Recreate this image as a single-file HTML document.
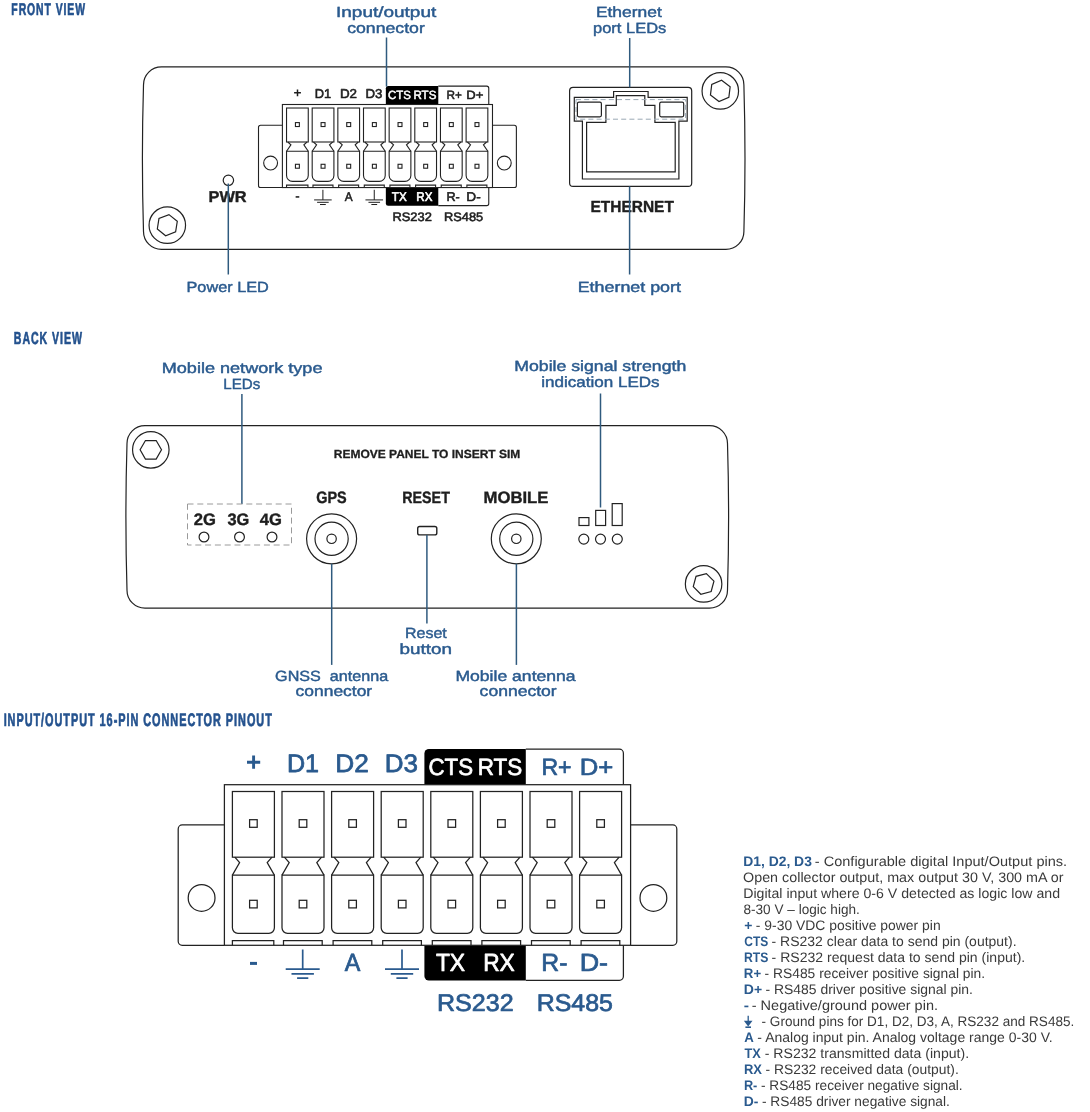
<!DOCTYPE html>
<html lang="en"><head><meta charset="utf-8"><title>Front / back view</title>
<style>html,body{margin:0;padding:0;background:#fff}body{width:1090px;height:1112px;overflow:hidden;font-family:"Liberation Sans", sans-serif}</style></head>
<body>
<svg width="1090" height="1112" viewBox="0 0 1090 1112" font-family='"Liberation Sans", sans-serif' style="display:block;will-change:transform" text-rendering="geometricPrecision">
<style>.s{fill:none;stroke:#222222;stroke-width:1.2}.f{fill:#fff;stroke:#222222;stroke-width:1.2}</style>
<rect width="1090" height="1112" fill="#fff"/>
<text xml:space="preserve" transform="translate(11.35,15.47) scale(0.5781,0.9509)" font-size="18" font-weight="bold" fill="#24528e" stroke="#24528e" stroke-width="0.70" stroke-linejoin="round" letter-spacing="1.6">FRONT VIEW</text>
<text xml:space="preserve" transform="translate(13.84,344.46) scale(0.5877,0.9658)" font-size="18" font-weight="bold" fill="#24528e" stroke="#24528e" stroke-width="0.70" stroke-linejoin="round" letter-spacing="1.6">BACK VIEW</text>
<text xml:space="preserve" transform="translate(3.63,725.75) scale(0.6044,1.0108)" font-size="18" font-weight="bold" fill="#24528e" stroke="#24528e" stroke-width="0.70" stroke-linejoin="round" letter-spacing="1.6">INPUT/OUTPUT 16-PIN CONNECTOR PINOUT</text>
<path class="f" d="M161.50,66.9 H725.90 A18.0,18.0 0 0 1 743.90,84.90 Q746.10,158.15 743.90,231.40 A18.0,18.0 0 0 1 725.90,249.4 H161.50 A18.0,18.0 0 0 1 143.50,231.40 Q141.30,158.15 143.50,84.90 A18.0,18.0 0 0 1 161.50,66.9 Z"/>
<circle cx="167.3" cy="225.2" r="18.25" class="s"/>
<polygon points="168.97,214.63 177.29,221.37 175.62,231.93 165.63,235.77 157.31,229.03 158.98,218.47" class="s"/>
<circle cx="720.3" cy="90.9" r="18.25" class="s"/>
<polygon points="721.60,80.28 730.15,86.72 728.85,97.34 719.00,101.52 710.45,95.08 711.75,84.46" class="s"/>
<circle cx="228.4" cy="180.3" r="5.2" class="f"/>
<text xml:space="preserve" transform="translate(208.48,201.80) scale(1.0213,0.9785)" font-size="16" font-weight="bold" fill="#1e1e1e" stroke="#1e1e1e" stroke-width="0.40" stroke-linejoin="round">PWR</text>
<g transform="translate(282.4,104.5) scale(0.5172)" fill="none" stroke="#222222" stroke-width="2.127">
<path d="M0,40.2 H-42.2 a4,4 0 0 0 -4,4 V156.6 a4,4 0 0 0 4,4 H0" fill="#fff"/>
<path d="M406.2,40.2 H448.4 a4,4 0 0 1 4,4 V156.6 a4,4 0 0 1 -4,4 H406.2" fill="#fff"/>
<circle cx="-22.8" cy="113.2" r="13.4"/>
<circle cx="429.0" cy="113.2" r="13.4"/>
<path d="M200.0,0 V-31.3 a4.5,4.5 0 0 1 4.5,-4.5 H301.4 V0 Z" fill="#000" stroke="none"/>
<path d="M301.4,-35.5 H395.0 a4,4 0 0 1 4,4 V0" fill="#fff"/>
<path d="M200.0,160.6 V191.4 a4.5,4.5 0 0 0 4.5,4.5 H301.4 V160.6 Z" fill="#000" stroke="none"/>
<path d="M301.4,195.6 H395.0 a4,4 0 0 0 4,-4 V160.6" fill="#fff"/>
<rect x="0" y="0" width="406.2" height="160.6" fill="#fff"/>
<rect x="8.00" y="6.8" width="42.0" height="65.7"/>
<path d="M10.40,72.5 L16.50,77.8 L8.00,90.4 M47.60,72.5 L41.50,77.8 L50.00,90.4"/>
<path d="M8.00,90.4 H50.00 V137.10 a11.5,11.5 0 0 1 -11.5,11.5 H19.50 a11.5,11.5 0 0 1 -11.5,-11.5 Z"/>
<path d="M8.00,160.6 V155.8 H49.40 V160.6"/>
<rect x="25.20" y="35.00" width="7.6" height="7.6"/>
<rect x="25.20" y="115.60" width="7.6" height="7.6"/>
<rect x="57.60" y="6.8" width="42.0" height="65.7"/>
<path d="M60.00,72.5 L66.10,77.8 L57.60,90.4 M97.20,72.5 L91.10,77.8 L99.60,90.4"/>
<path d="M57.60,90.4 H99.60 V137.10 a11.5,11.5 0 0 1 -11.5,11.5 H69.10 a11.5,11.5 0 0 1 -11.5,-11.5 Z"/>
<path d="M59.10,160.6 V155.8 H97.80 V160.6"/>
<rect x="74.80" y="35.00" width="7.6" height="7.6"/>
<rect x="74.80" y="115.60" width="7.6" height="7.6"/>
<rect x="107.20" y="6.8" width="42.0" height="65.7"/>
<path d="M109.60,72.5 L115.70,77.8 L107.20,90.4 M146.80,72.5 L140.70,77.8 L149.20,90.4"/>
<path d="M107.20,90.4 H149.20 V137.10 a11.5,11.5 0 0 1 -11.5,11.5 H118.70 a11.5,11.5 0 0 1 -11.5,-11.5 Z"/>
<path d="M108.70,160.6 V155.8 H147.40 V160.6"/>
<rect x="124.40" y="35.00" width="7.6" height="7.6"/>
<rect x="124.40" y="115.60" width="7.6" height="7.6"/>
<rect x="156.80" y="6.8" width="42.0" height="65.7"/>
<path d="M159.20,72.5 L165.30,77.8 L156.80,90.4 M196.40,72.5 L190.30,77.8 L198.80,90.4"/>
<path d="M156.80,90.4 H198.80 V137.10 a11.5,11.5 0 0 1 -11.5,11.5 H168.30 a11.5,11.5 0 0 1 -11.5,-11.5 Z"/>
<path d="M158.30,160.6 V155.8 H197.00 V160.6"/>
<rect x="174.00" y="35.00" width="7.6" height="7.6"/>
<rect x="174.00" y="115.60" width="7.6" height="7.6"/>
<rect x="206.40" y="6.8" width="42.0" height="65.7"/>
<path d="M208.80,72.5 L214.90,77.8 L206.40,90.4 M246.00,72.5 L239.90,77.8 L248.40,90.4"/>
<path d="M206.40,90.4 H248.40 V137.10 a11.5,11.5 0 0 1 -11.5,11.5 H217.90 a11.5,11.5 0 0 1 -11.5,-11.5 Z"/>
<path d="M207.90,160.6 V155.8 H246.60 V160.6"/>
<rect x="223.60" y="35.00" width="7.6" height="7.6"/>
<rect x="223.60" y="115.60" width="7.6" height="7.6"/>
<rect x="256.00" y="6.8" width="42.0" height="65.7"/>
<path d="M258.40,72.5 L264.50,77.8 L256.00,90.4 M295.60,72.5 L289.50,77.8 L298.00,90.4"/>
<path d="M256.00,90.4 H298.00 V137.10 a11.5,11.5 0 0 1 -11.5,11.5 H267.50 a11.5,11.5 0 0 1 -11.5,-11.5 Z"/>
<path d="M257.50,160.6 V155.8 H296.20 V160.6"/>
<rect x="273.20" y="35.00" width="7.6" height="7.6"/>
<rect x="273.20" y="115.60" width="7.6" height="7.6"/>
<rect x="305.60" y="6.8" width="42.0" height="65.7"/>
<path d="M308.00,72.5 L314.10,77.8 L305.60,90.4 M345.20,72.5 L339.10,77.8 L347.60,90.4"/>
<path d="M305.60,90.4 H347.60 V137.10 a11.5,11.5 0 0 1 -11.5,11.5 H317.10 a11.5,11.5 0 0 1 -11.5,-11.5 Z"/>
<path d="M307.10,160.6 V155.8 H345.80 V160.6"/>
<rect x="322.80" y="35.00" width="7.6" height="7.6"/>
<rect x="322.80" y="115.60" width="7.6" height="7.6"/>
<rect x="355.20" y="6.8" width="42.0" height="65.7"/>
<path d="M357.60,72.5 L363.70,77.8 L355.20,90.4 M394.80,72.5 L388.70,77.8 L397.20,90.4"/>
<path d="M355.20,90.4 H397.20 V137.10 a11.5,11.5 0 0 1 -11.5,11.5 H366.70 a11.5,11.5 0 0 1 -11.5,-11.5 Z"/>
<path d="M356.70,160.6 V155.8 H395.40 V160.6"/>
<rect x="372.40" y="35.00" width="7.6" height="7.6"/>
<rect x="372.40" y="115.60" width="7.6" height="7.6"/>
</g>
<path d="M294.09,92.86 H300.92 M297.50,89.45 V96.28" stroke="#1e1e1e" stroke-width="1.50" fill="none"/>
<text xml:space="preserve" transform="translate(314.84,97.90) scale(0.9546,0.9563)" font-size="13.4472" font-weight="normal" fill="#1e1e1e" stroke="#1e1e1e" stroke-width="0.61" stroke-linejoin="round">D1</text>
<text xml:space="preserve" transform="translate(339.89,97.90) scale(0.9961,0.9563)" font-size="13.4472" font-weight="normal" fill="#1e1e1e" stroke="#1e1e1e" stroke-width="0.61" stroke-linejoin="round">D2</text>
<text xml:space="preserve" transform="translate(365.45,97.90) scale(0.9866,0.9563)" font-size="13.4472" font-weight="normal" fill="#1e1e1e" stroke="#1e1e1e" stroke-width="0.61" stroke-linejoin="round">D3</text>
<text xml:space="preserve" transform="translate(388.04,99.47) scale(0.8514,0.8843)" font-size="13.4472" font-weight="normal" fill="#fff" stroke="#fff" stroke-width="0.61" stroke-linejoin="round">CTS</text>
<text xml:space="preserve" transform="translate(413.49,99.47) scale(0.8573,0.8843)" font-size="13.4472" font-weight="normal" fill="#fff" stroke="#fff" stroke-width="0.61" stroke-linejoin="round">RTS</text>
<text xml:space="preserve" transform="translate(446.47,99.47) scale(0.8776,0.8843)" font-size="13.4472" font-weight="normal" fill="#1e1e1e" stroke="#1e1e1e" stroke-width="0.61" stroke-linejoin="round">R+</text>
<text xml:space="preserve" transform="translate(466.31,99.47) scale(0.9772,0.8843)" font-size="13.4472" font-weight="normal" fill="#1e1e1e" stroke="#1e1e1e" stroke-width="0.61" stroke-linejoin="round">D+</text>
<text xml:space="preserve" transform="translate(391.87,200.57) scale(0.8692,0.9357)" font-size="13.4472" font-weight="normal" fill="#fff" stroke="#fff" stroke-width="0.61" stroke-linejoin="round">TX</text>
<text xml:space="preserve" transform="translate(416.33,200.57) scale(0.8663,0.9357)" font-size="13.4472" font-weight="normal" fill="#fff" stroke="#fff" stroke-width="0.61" stroke-linejoin="round">RX</text>
<text xml:space="preserve" transform="translate(446.42,200.57) scale(0.9402,0.9357)" font-size="13.4472" font-weight="normal" fill="#1e1e1e" stroke="#1e1e1e" stroke-width="0.61" stroke-linejoin="round">R-</text>
<text xml:space="preserve" transform="translate(466.28,200.57) scale(1.0182,0.9357)" font-size="13.4472" font-weight="normal" fill="#1e1e1e" stroke="#1e1e1e" stroke-width="0.61" stroke-linejoin="round">D-</text>
<text xml:space="preserve" transform="translate(344.68,200.57) scale(0.8799,0.9408)" font-size="13.4472" font-weight="normal" fill="#1e1e1e" stroke="#1e1e1e" stroke-width="0.61" stroke-linejoin="round">A</text>
<rect x="295.64" y="196.15" width="3.62" height="1.55" fill="#1e1e1e"/>
<path d="M322.90,189.79 V199.92 M314.10,199.92 H331.69 M317.10,202.30 H328.69 M320.00,204.53 H325.79" stroke="#1e1e1e" stroke-width="1.00" fill="none"/>
<path d="M374.25,189.79 V199.92 M365.46,199.92 H383.05 M368.46,202.30 H380.05 M371.36,204.53 H377.15" stroke="#1e1e1e" stroke-width="1.00" fill="none"/>
<text xml:space="preserve" transform="translate(392.47,221.22) scale(0.9590,0.9100)" font-size="13.4472" font-weight="normal" fill="#1e1e1e" stroke="#1e1e1e" stroke-width="0.61" stroke-linejoin="round">RS232</text>
<text xml:space="preserve" transform="translate(444.04,221.22) scale(0.9538,0.9100)" font-size="13.4472" font-weight="normal" fill="#1e1e1e" stroke="#1e1e1e" stroke-width="0.61" stroke-linejoin="round">RS485</text>
<rect x="569.6" y="87.4" width="122.1" height="99" rx="3.5" class="f"/>
<path d="M574.3,97.4 H613.6 V91.5 H648.1 V97.4 H687.2 V121.2 H678.9 V179 H582.4 V121.2 H574.3 Z" class="s"/>
<path d="M586.6,122.3 H605.9 V105.3 H616.3 V95.7 H644.8 V105.3 H654.9 V122.3 H675.2 V171.9 H586.6 Z" class="s"/>
<rect x="576" y="99.6" width="109.6" height="19.6" fill="none" stroke="#9aa8b4" stroke-width="1" stroke-dasharray="5,3.2"/>
<rect x="577.4" y="102.2" width="24" height="14.6" rx="1.5" class="f"/>
<rect x="659.7" y="102.2" width="24" height="14.6" rx="1.5" class="f"/>
<text xml:space="preserve" transform="translate(590.52,211.60) scale(0.9495,0.9864)" font-size="16.3" font-weight="bold" fill="#1e1e1e" stroke="#1e1e1e" stroke-width="0.40" stroke-linejoin="round">ETHERNET</text>
<line x1="386.5" y1="37.5" x2="386.5" y2="86.5" stroke="#2f5a7e" stroke-width="1.5"/>
<line x1="629.7" y1="38.0" x2="629.7" y2="87.4" stroke="#2f5a7e" stroke-width="1.5"/>
<line x1="629.6" y1="186.4" x2="629.6" y2="274.5" stroke="#2f5a7e" stroke-width="1.5"/>
<line x1="228.3" y1="183.5" x2="228.3" y2="274.5" stroke="#2f5a7e" stroke-width="1.5"/>
<text xml:space="preserve" transform="translate(336.00,17.08) scale(1.1862,0.9207)" font-size="16" font-weight="normal" fill="#2a5a8e" stroke="#2a5a8e" stroke-width="0.48" stroke-linejoin="round">Input/output</text>
<text xml:space="preserve" transform="translate(347.21,33.28) scale(1.1045,0.9207)" font-size="16" font-weight="normal" fill="#2a5a8e" stroke="#2a5a8e" stroke-width="0.48" stroke-linejoin="round">connector</text>
<text xml:space="preserve" transform="translate(595.90,17.18) scale(1.0892,0.9207)" font-size="16" font-weight="normal" fill="#2a5a8e" stroke="#2a5a8e" stroke-width="0.48" stroke-linejoin="round">Ethernet</text>
<text xml:space="preserve" transform="translate(593.02,33.28) scale(1.0297,0.9207)" font-size="16" font-weight="normal" fill="#2a5a8e" stroke="#2a5a8e" stroke-width="0.48" stroke-linejoin="round">port LEDs</text>
<text xml:space="preserve" transform="translate(186.47,292.28) scale(1.0176,0.9207)" font-size="16" font-weight="normal" fill="#2a5a8e" stroke="#2a5a8e" stroke-width="0.48" stroke-linejoin="round">Power LED</text>
<text xml:space="preserve" transform="translate(577.67,292.38) scale(1.1167,0.9207)" font-size="16" font-weight="normal" fill="#2a5a8e" stroke="#2a5a8e" stroke-width="0.48" stroke-linejoin="round">Ethernet port</text>
<path class="f" d="M145.00,425.6 H709.50 A18.0,18.0 0 0 1 727.50,443.60 Q729.70,516.90 727.50,590.20 A18.0,18.0 0 0 1 709.50,608.2 H145.00 A18.0,18.0 0 0 1 127.00,590.20 Q124.80,516.90 127.00,443.60 A18.0,18.0 0 0 1 145.00,425.6 Z"/>
<circle cx="150.8" cy="449.8" r="18.25" class="s"/>
<polygon points="156.15,440.53 161.50,449.80 156.15,459.07 145.45,459.07 140.10,449.80 145.45,440.53" class="s"/>
<circle cx="703.6" cy="583.9" r="18.25" class="s"/>
<polygon points="706.37,573.56 713.94,581.13 711.17,591.47 700.83,594.24 693.26,586.67 696.03,576.33" class="s"/>
<text xml:space="preserve" transform="translate(333.80,458.15) scale(0.9987,0.9843)" font-size="12" font-weight="bold" fill="#1e1e1e" stroke="#1e1e1e" stroke-width="0.30" stroke-linejoin="round">REMOVE PANEL TO INSERT SIM</text>
<text xml:space="preserve" transform="translate(316.22,502.80) scale(0.8748,0.9999)" font-size="16.5" font-weight="bold" fill="#1e1e1e" stroke="#1e1e1e" stroke-width="0.40" stroke-linejoin="round">GPS</text>
<text xml:space="preserve" transform="translate(402.28,502.80) scale(0.8647,0.9999)" font-size="16.5" font-weight="bold" fill="#1e1e1e" stroke="#1e1e1e" stroke-width="0.40" stroke-linejoin="round">RESET</text>
<text xml:space="preserve" transform="translate(483.46,502.80) scale(1.0127,0.9999)" font-size="16.5" font-weight="bold" fill="#1e1e1e" stroke="#1e1e1e" stroke-width="0.40" stroke-linejoin="round">MOBILE</text>
<line x1="241.9" y1="394" x2="241.9" y2="504" stroke="#2f5a7e" stroke-width="1.5"/>
<rect x="187.5" y="504" width="104" height="41" fill="none" stroke="#9a9a9a" stroke-width="1" stroke-dasharray="6,3.8"/>
<text xml:space="preserve" transform="translate(193.68,524.80) scale(1.0038,0.9999)" font-size="16.5" font-weight="bold" fill="#1e1e1e" stroke="#1e1e1e" stroke-width="0.40" stroke-linejoin="round">2G</text>
<text xml:space="preserve" transform="translate(227.44,524.80) scale(0.9916,0.9999)" font-size="16.5" font-weight="bold" fill="#1e1e1e" stroke="#1e1e1e" stroke-width="0.40" stroke-linejoin="round">3G</text>
<text xml:space="preserve" transform="translate(259.70,524.80) scale(1.0030,0.9999)" font-size="16.5" font-weight="bold" fill="#1e1e1e" stroke="#1e1e1e" stroke-width="0.40" stroke-linejoin="round">4G</text>
<circle cx="204" cy="537" r="4.9" class="s"/>
<circle cx="239.5" cy="537" r="4.9" class="s"/>
<circle cx="272" cy="537" r="4.9" class="s"/>
<circle cx="331.6" cy="538.8" r="25" class="s"/>
<circle cx="331.6" cy="538.8" r="16.6" class="s"/>
<circle cx="331.6" cy="538.8" r="4.7" class="s"/>
<circle cx="516.3" cy="538.8" r="25" class="s"/>
<circle cx="516.3" cy="538.8" r="16.6" class="s"/>
<circle cx="516.3" cy="538.8" r="4.7" class="s"/>
<line x1="331.7" y1="563.8" x2="331.7" y2="664.9" stroke="#2f5a7e" stroke-width="1.5"/>
<line x1="516.4" y1="563.8" x2="516.4" y2="664.9" stroke="#2f5a7e" stroke-width="1.5"/>
<rect x="417.7" y="526.5" width="19.1" height="8.4" rx="2" class="s" style="stroke-width:1.4"/>
<line x1="426.9" y1="535" x2="426.9" y2="623.4" stroke="#2f5a7e" stroke-width="1.5"/>
<line x1="600.5" y1="393.5" x2="600.5" y2="507.5" stroke="#2f5a7e" stroke-width="1.5"/>
<rect x="579" y="517.6" width="9.9" height="7.9" class="f"/>
<rect x="595.7" y="510.4" width="9.9" height="15.1" class="f"/>
<rect x="612.2" y="503.6" width="10" height="21.9" class="f"/>
<circle cx="583.8" cy="539.1" r="5" class="s"/>
<circle cx="600.5" cy="539.1" r="5" class="s"/>
<circle cx="617.3" cy="539.1" r="5" class="s"/>
<text xml:space="preserve" transform="translate(161.76,372.58) scale(1.1294,0.9207)" font-size="16" font-weight="normal" fill="#2a5a8e" stroke="#2a5a8e" stroke-width="0.48" stroke-linejoin="round">Mobile network type</text>
<text xml:space="preserve" transform="translate(223.34,388.88) scale(0.9457,0.9207)" font-size="16" font-weight="normal" fill="#2a5a8e" stroke="#2a5a8e" stroke-width="0.48" stroke-linejoin="round">LEDs</text>
<text xml:space="preserve" transform="translate(514.28,371.08) scale(1.1047,0.9207)" font-size="16" font-weight="normal" fill="#2a5a8e" stroke="#2a5a8e" stroke-width="0.48" stroke-linejoin="round">Mobile signal strength</text>
<text xml:space="preserve" transform="translate(541.19,387.18) scale(1.0649,0.9207)" font-size="16" font-weight="normal" fill="#2a5a8e" stroke="#2a5a8e" stroke-width="0.48" stroke-linejoin="round">indication LEDs</text>
<text xml:space="preserve" transform="translate(404.99,637.78) scale(1.0004,0.9207)" font-size="16" font-weight="normal" fill="#2a5a8e" stroke="#2a5a8e" stroke-width="0.48" stroke-linejoin="round">Reset</text>
<text xml:space="preserve" transform="translate(399.50,653.78) scale(1.1796,0.9207)" font-size="16" font-weight="normal" fill="#2a5a8e" stroke="#2a5a8e" stroke-width="0.48" stroke-linejoin="round">button</text>
<text xml:space="preserve" transform="translate(275.09,680.88) scale(1.0089,0.9207)" font-size="16" font-weight="normal" fill="#2a5a8e" stroke="#2a5a8e" stroke-width="0.48" stroke-linejoin="round">GNSS  antenna</text>
<text xml:space="preserve" transform="translate(295.62,696.48) scale(1.0888,0.9207)" font-size="16" font-weight="normal" fill="#2a5a8e" stroke="#2a5a8e" stroke-width="0.48" stroke-linejoin="round">connector</text>
<text xml:space="preserve" transform="translate(455.39,680.88) scale(1.0989,0.9207)" font-size="16" font-weight="normal" fill="#2a5a8e" stroke="#2a5a8e" stroke-width="0.48" stroke-linejoin="round">Mobile antenna</text>
<text xml:space="preserve" transform="translate(479.61,696.48) scale(1.0974,0.9207)" font-size="16" font-weight="normal" fill="#2a5a8e" stroke="#2a5a8e" stroke-width="0.48" stroke-linejoin="round">connector</text>
<g transform="translate(224.4,784.7) scale(1.0)" fill="none" stroke="#222222" stroke-width="1.250">
<path d="M0,40.2 H-42.2 a4,4 0 0 0 -4,4 V156.6 a4,4 0 0 0 4,4 H0" fill="#fff"/>
<path d="M406.2,40.2 H448.4 a4,4 0 0 1 4,4 V156.6 a4,4 0 0 1 -4,4 H406.2" fill="#fff"/>
<circle cx="-22.8" cy="113.2" r="13.4"/>
<circle cx="429.0" cy="113.2" r="13.4"/>
<path d="M200.0,0 V-31.3 a4.5,4.5 0 0 1 4.5,-4.5 H301.4 V0 Z" fill="#000" stroke="none"/>
<path d="M301.4,-35.5 H395.0 a4,4 0 0 1 4,4 V0" fill="#fff"/>
<path d="M200.0,160.6 V191.4 a4.5,4.5 0 0 0 4.5,4.5 H301.4 V160.6 Z" fill="#000" stroke="none"/>
<path d="M301.4,195.6 H395.0 a4,4 0 0 0 4,-4 V160.6" fill="#fff"/>
<rect x="0" y="0" width="406.2" height="160.6" fill="#fff"/>
<rect x="8.00" y="6.8" width="42.0" height="65.7"/>
<path d="M10.40,72.5 L15.20,77.8 L8.00,90.4 M47.60,72.5 L42.80,77.8 L50.00,90.4"/>
<path d="M8.00,90.4 H50.00 V143.10 a5.5,5.5 0 0 1 -5.5,5.5 H13.50 a5.5,5.5 0 0 1 -5.5,-5.5 Z"/>
<path d="M8.00,160.6 V155.8 H49.40 V160.6"/>
<rect x="25.20" y="35.00" width="7.6" height="7.6"/>
<rect x="25.20" y="115.60" width="7.6" height="7.6"/>
<rect x="57.60" y="6.8" width="42.0" height="65.7"/>
<path d="M60.00,72.5 L64.80,77.8 L57.60,90.4 M97.20,72.5 L92.40,77.8 L99.60,90.4"/>
<path d="M57.60,90.4 H99.60 V143.10 a5.5,5.5 0 0 1 -5.5,5.5 H63.10 a5.5,5.5 0 0 1 -5.5,-5.5 Z"/>
<path d="M59.10,160.6 V155.8 H97.80 V160.6"/>
<rect x="74.80" y="35.00" width="7.6" height="7.6"/>
<rect x="74.80" y="115.60" width="7.6" height="7.6"/>
<rect x="107.20" y="6.8" width="42.0" height="65.7"/>
<path d="M109.60,72.5 L114.40,77.8 L107.20,90.4 M146.80,72.5 L142.00,77.8 L149.20,90.4"/>
<path d="M107.20,90.4 H149.20 V143.10 a5.5,5.5 0 0 1 -5.5,5.5 H112.70 a5.5,5.5 0 0 1 -5.5,-5.5 Z"/>
<path d="M108.70,160.6 V155.8 H147.40 V160.6"/>
<rect x="124.40" y="35.00" width="7.6" height="7.6"/>
<rect x="124.40" y="115.60" width="7.6" height="7.6"/>
<rect x="156.80" y="6.8" width="42.0" height="65.7"/>
<path d="M159.20,72.5 L164.00,77.8 L156.80,90.4 M196.40,72.5 L191.60,77.8 L198.80,90.4"/>
<path d="M156.80,90.4 H198.80 V143.10 a5.5,5.5 0 0 1 -5.5,5.5 H162.30 a5.5,5.5 0 0 1 -5.5,-5.5 Z"/>
<path d="M158.30,160.6 V155.8 H197.00 V160.6"/>
<rect x="174.00" y="35.00" width="7.6" height="7.6"/>
<rect x="174.00" y="115.60" width="7.6" height="7.6"/>
<rect x="206.40" y="6.8" width="42.0" height="65.7"/>
<path d="M208.80,72.5 L213.60,77.8 L206.40,90.4 M246.00,72.5 L241.20,77.8 L248.40,90.4"/>
<path d="M206.40,90.4 H248.40 V143.10 a5.5,5.5 0 0 1 -5.5,5.5 H211.90 a5.5,5.5 0 0 1 -5.5,-5.5 Z"/>
<path d="M207.90,160.6 V155.8 H246.60 V160.6"/>
<rect x="223.60" y="35.00" width="7.6" height="7.6"/>
<rect x="223.60" y="115.60" width="7.6" height="7.6"/>
<rect x="256.00" y="6.8" width="42.0" height="65.7"/>
<path d="M258.40,72.5 L263.20,77.8 L256.00,90.4 M295.60,72.5 L290.80,77.8 L298.00,90.4"/>
<path d="M256.00,90.4 H298.00 V143.10 a5.5,5.5 0 0 1 -5.5,5.5 H261.50 a5.5,5.5 0 0 1 -5.5,-5.5 Z"/>
<path d="M257.50,160.6 V155.8 H296.20 V160.6"/>
<rect x="273.20" y="35.00" width="7.6" height="7.6"/>
<rect x="273.20" y="115.60" width="7.6" height="7.6"/>
<rect x="305.60" y="6.8" width="42.0" height="65.7"/>
<path d="M308.00,72.5 L312.80,77.8 L305.60,90.4 M345.20,72.5 L340.40,77.8 L347.60,90.4"/>
<path d="M305.60,90.4 H347.60 V143.10 a5.5,5.5 0 0 1 -5.5,5.5 H311.10 a5.5,5.5 0 0 1 -5.5,-5.5 Z"/>
<path d="M307.10,160.6 V155.8 H345.80 V160.6"/>
<rect x="322.80" y="35.00" width="7.6" height="7.6"/>
<rect x="322.80" y="115.60" width="7.6" height="7.6"/>
<rect x="355.20" y="6.8" width="42.0" height="65.7"/>
<path d="M357.60,72.5 L362.40,77.8 L355.20,90.4 M394.80,72.5 L390.00,77.8 L397.20,90.4"/>
<path d="M355.20,90.4 H397.20 V143.10 a5.5,5.5 0 0 1 -5.5,5.5 H360.70 a5.5,5.5 0 0 1 -5.5,-5.5 Z"/>
<path d="M356.70,160.6 V155.8 H395.40 V160.6"/>
<rect x="372.40" y="35.00" width="7.6" height="7.6"/>
<rect x="372.40" y="115.60" width="7.6" height="7.6"/>
</g>
<path d="M247.00,762.20 H260.20 M253.60,755.60 V768.80" stroke="#2a5a8e" stroke-width="2.90" fill="none"/>
<text xml:space="preserve" transform="translate(286.91,772.12) scale(0.9667,0.9758)" font-size="26.0" font-weight="normal" fill="#2a5a8e" stroke="#2a5a8e" stroke-width="0.78" stroke-linejoin="round">D1</text>
<text xml:space="preserve" transform="translate(335.34,772.12) scale(1.0087,0.9758)" font-size="26.0" font-weight="normal" fill="#2a5a8e" stroke="#2a5a8e" stroke-width="0.78" stroke-linejoin="round">D2</text>
<text xml:space="preserve" transform="translate(384.76,772.12) scale(0.9990,0.9758)" font-size="26.0" font-weight="normal" fill="#2a5a8e" stroke="#2a5a8e" stroke-width="0.78" stroke-linejoin="round">D3</text>
<text xml:space="preserve" transform="translate(428.49,775.15) scale(0.8579,0.9024)" font-size="26.0" font-weight="normal" fill="#fff" stroke="#fff" stroke-width="0.78" stroke-linejoin="round">CTS</text>
<text xml:space="preserve" transform="translate(477.68,775.15) scale(0.8640,0.9024)" font-size="26.0" font-weight="normal" fill="#fff" stroke="#fff" stroke-width="0.78" stroke-linejoin="round">RTS</text>
<text xml:space="preserve" transform="translate(541.44,775.15) scale(0.8884,0.9024)" font-size="26.0" font-weight="normal" fill="#2a5a8e" stroke="#2a5a8e" stroke-width="0.78" stroke-linejoin="round">R+</text>
<text xml:space="preserve" transform="translate(579.78,775.15) scale(0.9892,0.9024)" font-size="26.0" font-weight="normal" fill="#2a5a8e" stroke="#2a5a8e" stroke-width="0.78" stroke-linejoin="round">D+</text>
<text xml:space="preserve" transform="translate(435.89,970.63) scale(0.8794,0.9548)" font-size="26.0" font-weight="normal" fill="#fff" stroke="#fff" stroke-width="0.78" stroke-linejoin="round">TX</text>
<text xml:space="preserve" transform="translate(483.16,970.63) scale(0.8760,0.9548)" font-size="26.0" font-weight="normal" fill="#fff" stroke="#fff" stroke-width="0.78" stroke-linejoin="round">RX</text>
<text xml:space="preserve" transform="translate(541.33,970.63) scale(0.9547,0.9548)" font-size="26.0" font-weight="normal" fill="#2a5a8e" stroke="#2a5a8e" stroke-width="0.78" stroke-linejoin="round">R-</text>
<text xml:space="preserve" transform="translate(579.70,970.63) scale(1.0339,0.9548)" font-size="26.0" font-weight="normal" fill="#2a5a8e" stroke="#2a5a8e" stroke-width="0.78" stroke-linejoin="round">D-</text>
<text xml:space="preserve" transform="translate(344.65,970.63) scale(0.8987,0.9601)" font-size="26.0" font-weight="normal" fill="#2a5a8e" stroke="#2a5a8e" stroke-width="0.78" stroke-linejoin="round">A</text>
<rect x="250.00" y="961.90" width="7.00" height="3.00" fill="#2a5a8e"/>
<path d="M302.70,949.60 V969.20 M285.70,969.20 H319.70 M291.50,973.80 H313.90 M297.10,978.10 H308.30" stroke="#2a5a8e" stroke-width="1.70" fill="none"/>
<path d="M402.00,949.60 V969.20 M385.00,969.20 H419.00 M390.80,973.80 H413.20 M396.40,978.10 H407.60" stroke="#2a5a8e" stroke-width="1.70" fill="none"/>
<text xml:space="preserve" transform="translate(437.02,1010.54) scale(0.9638,0.9286)" font-size="26.0" font-weight="normal" fill="#2a5a8e" stroke="#2a5a8e" stroke-width="0.78" stroke-linejoin="round">RS232</text>
<text xml:space="preserve" transform="translate(536.73,1010.54) scale(0.9586,0.9286)" font-size="26.0" font-weight="normal" fill="#2a5a8e" stroke="#2a5a8e" stroke-width="0.78" stroke-linejoin="round">RS485</text>
<text xml:space="preserve" transform="translate(743.23,865.90) scale(0.9908,0.9854)" font-size="14" font-weight="bold" fill="#2a5a8e">D1, D2, D3</text>
<text xml:space="preserve" transform="translate(814.75,865.90) scale(1.0394,0.9854)" font-size="14" font-weight="normal" fill="#3a3a3a">- Configurable digital Input/Output pins.</text>
<text xml:space="preserve" transform="translate(743.03,881.93) scale(1.0234,0.9854)" font-size="14" font-weight="normal" fill="#3a3a3a">Open collector output, max output 30 V, 300 mA or</text>
<text xml:space="preserve" transform="translate(743.19,897.96) scale(1.0104,0.9854)" font-size="14" font-weight="normal" fill="#3a3a3a">Digital input where 0-6 V detected as logic low and</text>
<text xml:space="preserve" transform="translate(743.48,913.99) scale(0.9708,0.9854)" font-size="14" font-weight="normal" fill="#3a3a3a">8-30 V – logic high.</text>
<text xml:space="preserve" transform="translate(744.26,930.02) scale(0.9974,0.9854)" font-size="14" font-weight="bold" fill="#2a5a8e">+</text>
<text xml:space="preserve" transform="translate(755.76,930.02) scale(0.9943,0.9854)" font-size="14" font-weight="normal" fill="#3a3a3a">- 9-30 VDC positive power pin</text>
<text xml:space="preserve" transform="translate(744.33,946.05) scale(0.8568,0.9854)" font-size="14" font-weight="bold" fill="#2a5a8e">CTS</text>
<text xml:space="preserve" transform="translate(771.56,946.05) scale(0.9994,0.9854)" font-size="14" font-weight="normal" fill="#3a3a3a">- RS232 clear data to send pin (output).</text>
<text xml:space="preserve" transform="translate(743.94,962.08) scale(0.8708,0.9854)" font-size="14" font-weight="bold" fill="#2a5a8e">RTS</text>
<text xml:space="preserve" transform="translate(771.56,962.08) scale(1.0031,0.9854)" font-size="14" font-weight="normal" fill="#3a3a3a">- RS232 request data to send pin (input).</text>
<text xml:space="preserve" transform="translate(743.87,978.11) scale(0.9472,0.9854)" font-size="14" font-weight="bold" fill="#2a5a8e">R+</text>
<text xml:space="preserve" transform="translate(764.57,978.11) scale(0.9877,0.9854)" font-size="14" font-weight="normal" fill="#3a3a3a">- RS485 receiver positive signal pin.</text>
<text xml:space="preserve" transform="translate(743.82,994.14) scale(1.0005,0.9854)" font-size="14" font-weight="bold" fill="#2a5a8e">D+</text>
<text xml:space="preserve" transform="translate(765.46,994.14) scale(0.9950,0.9854)" font-size="14" font-weight="normal" fill="#3a3a3a">- RS485 driver positive signal pin.</text>
<text xml:space="preserve" transform="translate(743.81,1010.17) scale(1.1294,0.9854)" font-size="14" font-weight="bold" fill="#2a5a8e">-</text>
<text xml:space="preserve" transform="translate(751.75,1010.17) scale(1.0361,0.9854)" font-size="14" font-weight="normal" fill="#3a3a3a">- Negative/ground power pin.</text>
<path d="M748.2,1015.80 V1023.20" stroke="#2a5a8e" stroke-width="1.3" fill="none"/>
<path d="M743.9000000000001,1020.80 H752.5 L748.2,1026.40 Z" fill="#2a5a8e"/>
<path d="M745.4000000000001,1027.20 H751.0" stroke="#2a5a8e" stroke-width="1.6" fill="none"/>
<text xml:space="preserve" transform="translate(761.58,1026.20) scale(0.9683,0.9854)" font-size="14" font-weight="normal" fill="#3a3a3a">- Ground pins for D1, D2, D3, A, RS232 and RS485.</text>
<text xml:space="preserve" transform="translate(744.29,1042.23) scale(0.9455,0.9854)" font-size="14" font-weight="bold" fill="#2a5a8e">A</text>
<text xml:space="preserve" transform="translate(757.36,1042.23) scale(1.0000,0.9854)" font-size="14" font-weight="normal" fill="#3a3a3a">- Analog input pin. Analog voltage range 0-30 V.</text>
<text xml:space="preserve" transform="translate(744.50,1058.26) scale(0.9132,0.9854)" font-size="14" font-weight="bold" fill="#2a5a8e">TX</text>
<text xml:space="preserve" transform="translate(764.76,1058.26) scale(1.0060,0.9854)" font-size="14" font-weight="normal" fill="#3a3a3a">- RS232 transmitted data (input).</text>
<text xml:space="preserve" transform="translate(743.89,1074.29) scale(0.9280,0.9854)" font-size="14" font-weight="bold" fill="#2a5a8e">RX</text>
<text xml:space="preserve" transform="translate(765.47,1074.29) scale(0.9895,0.9854)" font-size="14" font-weight="normal" fill="#3a3a3a">- RS232 received data (output).</text>
<text xml:space="preserve" transform="translate(743.90,1090.32) scale(0.9110,0.9854)" font-size="14" font-weight="bold" fill="#2a5a8e">R-</text>
<text xml:space="preserve" transform="translate(760.97,1090.32) scale(0.9779,0.9854)" font-size="14" font-weight="normal" fill="#3a3a3a">- RS485 receiver negative signal.</text>
<text xml:space="preserve" transform="translate(743.83,1106.35) scale(0.9932,0.9854)" font-size="14" font-weight="bold" fill="#2a5a8e">D-</text>
<text xml:space="preserve" transform="translate(761.97,1106.35) scale(0.9814,0.9854)" font-size="14" font-weight="normal" fill="#3a3a3a">- RS485 driver negative signal.</text>
</svg>
</body></html>
